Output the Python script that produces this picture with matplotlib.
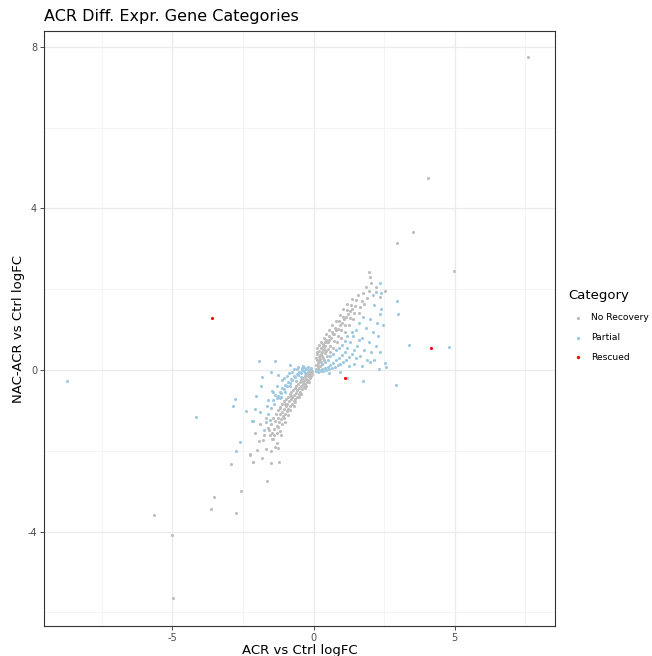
import numpy as np
import matplotlib.pyplot as plt

plt.rcParams['axes.unicode_minus'] = False

# values (logFC ACR vs Ctrl, logFC NAC-ACR vs Ctrl)
norec_x = [7.6, 4.06, 3.53, 2.97, 4.98, -5.65, -5.02, -4.98, -3.54, -3.64, -2.73, -2.56, -2.94,
           -2.14, -2.24, 1.95, 2.01, 2.54, 2.23, -1.65, -2.25, -2.16, -1.99, -1.84, -1.52, -1.24,
           -1.35, -2.08, -1.88, -1.7, -1.57, -1.26, -1.78, -1.48,
           0.08, 0.1, 0.12, 0.12, 0.14, 0.15, 0.17, 0.18, 0.2, 0.2, 0.22, 0.24, 0.25, 0.27, 0.28,
           0.3, 0.31, 0.33, 0.35, 0.36, 0.38, 0.4, 0.42, 0.43, 0.45, 0.47, 0.5, 0.52, 0.53, 0.55,
           0.58, 0.6, 0.62, 0.64, 0.66, 0.7, 0.72, 0.74, 0.76, 0.78, 0.82, 0.85, 0.87, 0.9, 0.92,
           0.96, 0.98, 1.0, 1.03, 1.05, 1.1, 1.12, 1.15, 1.18, 1.2, 1.25, 1.28, 1.3, 1.33, 1.38,
           1.4, 1.45, 1.48, 1.52, 1.58, 1.6, 1.65, 1.7, 1.75, 1.8, 1.85, 1.9, 2.05, 1.98, 2.2, 2.35,
           0.1, 0.13, 0.16, 0.19, 0.23, 0.26, 0.29, 0.32, 0.34, 0.37, 0.41, 0.44, 0.48, 0.56, 0.68,
           0.8, 0.94, 1.08, 1.22, 1.36,
           -0.04, -0.06, -0.08, -0.1, -0.12, -0.14, -0.16, -0.18, -0.2, -0.21, -0.23, -0.25, -0.27,
           -0.29, -0.31, -0.33, -0.35, -0.37, -0.39, -0.41, -0.43, -0.45, -0.47, -0.49, -0.51,
           -0.53, -0.55, -0.57, -0.59, -0.61, -0.63, -0.65, -0.67, -0.69, -0.71, -0.73, -0.75,
           -0.77, -0.79, -0.81, -0.83, -0.85, -0.87, -0.89, -0.91, -0.93, -0.95, -0.97, -0.99,
           -1.01, -1.04, -1.06, -1.08, -1.11, -1.13, -1.15, -1.18, -1.2, -1.22, -1.25, -1.27, -1.3,
           -1.33, -1.36, -1.4, -1.43, -1.46, -1.5, -1.55, -1.6, -1.1, -0.9, -0.7, -0.5, -0.3, -1.0,
           -0.8, -0.6, -0.4, -0.15, -1.2, -1.4, -1.3, -1.2, -1.0, -0.25, -0.45, -0.65, -0.85, -1.05,
           -1.25, -1.45, -1.7, -1.3, -1.15, -1.5, -1.75, -1.95]
norec_y = [7.75, 4.75, 3.42, 3.14, 2.45, -3.59, -4.08, -5.64, -3.14, -3.44, -3.54, -2.99, -2.32,
           -2.29, -2.1, 2.42, 2.29, 1.96, 1.92, -2.75, -2.09, -2.28, -1.98, -2.18, -2.01, -2.29,
           -1.9, -1.57, -1.33, -1.2, -1.49, -1.94, -1.73, -1.72,
           0.02, 0.12, 0.25, 0.4, 0.55, 0.05, 0.18, 0.32, 0.47, 0.62, 0.1, 0.28, 0.4, 0.55, 0.7,
           0.15, 0.35, 0.5, 0.65, 0.8, 0.25, 0.42, 0.58, 0.75, 0.9, 0.35, 0.52, 0.68, 0.85, 1.0,
           0.45, 0.6, 0.78, 0.95, 1.1, 0.55, 0.72, 0.9, 1.05, 1.2, 0.68, 0.85, 1.02, 1.2, 1.35,
           0.8, 1.0, 1.15, 1.32, 1.5, 0.95, 1.12, 1.3, 1.48, 1.62, 1.1, 1.28, 1.45, 1.6, 1.75,
           1.25, 1.42, 1.58, 1.72, 1.85, 1.4, 1.55, 1.7, 1.9, 1.62, 2.05, 1.78, 2.15, 1.95, 2.05, 1.8,
           0.3, 0.45, 0.1, 0.22, 0.38, 0.2, 0.45, 0.6, 0.3, 0.52, 0.68, 0.48, 0.7, 0.75, 0.88,
           1.0, 1.1, 1.25, 1.38, 1.5,
           -0.02, -0.1, 0.0, -0.14, -0.06, -0.2, -0.1, -0.25, -0.05, -0.16, -0.3, -0.1, -0.22,
           -0.36, -0.15, -0.28, -0.42, -0.2, -0.34, -0.48, -0.25, -0.4, -0.54, -0.3, -0.45,
           -0.6, -0.35, -0.5, -0.66, -0.4, -0.56, -0.72, -0.45, -0.62, -0.78, -0.5, -0.67,
           -0.84, -0.55, -0.72, -0.9, -0.6, -0.78, -0.96, -0.66, -0.84, -1.02, -0.72, -0.9,
           -1.08, -0.78, -0.96, -1.15, -0.85, -1.03, -1.22, -0.92, -1.1, -1.3, -1.0, -1.18, -1.38,
           -1.08, -1.27, -1.46, -1.2, -1.55, -1.35, -1.62, -1.45, -1.35, -1.12, -0.9, -0.68, -0.45, -0.85,
           -0.65, -0.5, -0.28, -0.3, -0.95, -1.6, -1.55, -1.5, -1.3, -0.4, -0.6, -0.8, -1.0, -1.2,
           -1.42, -1.7, -1.95, -1.8, -1.6, -2.3, -1.6, -1.75]

partial_x = [-8.73, -4.17, -2.59, -2.74, -2.16, 2.37, 2.94, 2.99, 3.37, 4.81, 2.37, 2.53, 2.56,
             2.33, 2.13, 2.92, 1.77, 2.47, 2.39, 2.34,
             -1.93, -1.38, -0.84, -0.42, -1.81, -1.52, -1.87, -2.78, -2.85, -2.4, -2.04, -2.07,
             -2.17, -1.9, -1.76, -1.48, -1.26, -1.11, -1.42, -1.17,
             -0.2, -0.25, -0.3, -0.35, -0.4, -0.45, -0.5, -0.55, -0.6, -0.65, -0.7, -0.75, -0.8,
             -0.85, -0.9, -0.95, -1.0, -1.05, -1.1, -1.15, -1.2, -1.25, -1.3, -1.35, -1.4, -1.5,
             -1.6, -0.6, -0.75, -0.95, -1.05, -0.3, -0.45, -0.62, -0.82, -1.0, -1.18, -0.15, -0.1,
             -0.38, -0.55, -0.7, -0.88, -1.3, -1.45, -1.6, -1.7, -1.55, -1.65,
             0.1, 0.15, 0.2, 0.25, 0.3, 0.35, 0.4, 0.45, 0.5, 0.55, 0.6, 0.65, 0.7, 0.75, 0.8, 0.85,
             0.9, 0.95, 1.0, 1.05, 1.1, 1.15, 1.2, 1.25, 1.3, 1.35, 1.4, 1.45, 1.5, 1.55, 1.6, 1.65,
             1.7, 1.75, 1.8, 1.85, 1.9, 1.95, 2.0, 2.05, 2.1, 2.15, 2.2, 2.25, 2.0, 1.45, 1.25, 0.3,
             0.4, 0.5, 0.6, 0.7, 0.8, 0.9, 1.0, 1.1, 1.2, 1.35, 1.5, 1.6, 2.3, 2.1, 1.7, 0.55, 0.95,
             1.2, 2.4]
partial_y = [-0.27, -1.16, -1.79, -2.0, -1.27, 2.16, 1.7, 1.39, 0.61, 0.57, 0.45, 0.16, 0.07,
             0.02, 0.25, -0.38, -0.27, 1.1, 1.5, 1.39,
             0.22, 0.21, 0.11, 0.06, -0.17, -0.04, -0.41, -0.73, -0.89, -1.02, -0.64, -0.96,
             -1.26, -1.05, -1.49, -0.51, -0.12, -0.25, -0.74, -0.66,
             0.08, 0.02, 0.05, -0.03, 0.0, -0.08, -0.05, -0.12, -0.1, -0.18, -0.15, -0.25, -0.22,
             -0.32, -0.3, -0.4, -0.38, -0.48, -0.45, -0.56, -0.55, -0.65, -0.7, -0.62, -0.85, -0.95,
             -1.1, 0.02, -0.05, -0.15, -0.2, -0.08, -0.18, -0.28, -0.4, -0.55, -0.7, 0.0, 0.05,
             0.1, 0.08, 0.02, -0.08, -0.4, -0.55, -0.75, -1.3, -1.25, -0.9,
             -0.02, -0.05, 0.0, -0.03, 0.02, -0.02, 0.05, 0.0, 0.08, 0.02, 0.12, 0.05, 0.18, 0.08,
             0.25, 0.12, 0.3, 0.15, 0.38, 0.2, 0.45, 0.25, 0.55, 0.32, 0.7, 0.4, 0.85, 0.5, 1.0,
             0.6, 1.15, 0.35, 0.8, 1.3, 0.5, 1.05, 0.25, 0.7, 1.25, 0.45, 0.95, 1.6, 0.6, 1.15, 0.2,
             0.15, 0.1, 0.15, 0.2, 0.25, 0.35, 0.4, 0.5, 0.55, 0.62, 0.72, 0.85, 0.95, 0.3, 0.75,
             0.85, 1.85, 0.1, -0.08, -0.05, -0.2, 1.9]

rescued_x = [-3.6, 1.13, 4.17]
rescued_y = [1.29, -0.2, 0.54]

categories = ["No Recovery", "Partial", "Rescued"]
colors = ["#BEBEBE", "#9ECAE1", "#FF0000"]

fig = plt.figure(figsize=(6.52, 6.56), dpi=100)
ax = fig.add_axes([0.0675, 0.0457, 0.7835, 0.907])

series = [(norec_x, norec_y), (partial_x, partial_y), (rescued_x, rescued_y)]
for (xs, ys), lab, c in zip(series, categories, colors):
    ax.scatter(xs, ys, s=5, color=c, linewidths=0, label=lab, zorder=3)

ax.set_xlim(-9.55, 8.55)
ax.set_ylim(-6.34, 8.39)
ax.set_xticks([-5, 0, 5])
ax.set_yticks([-4, 0, 4, 8])
ax.set_xticks([-7.5, -2.5, 2.5, 7.5], minor=True)
ax.set_yticks([-6, -2, 2, 6], minor=True)
ax.grid(which="major", color="#EBEBEB", lw=1.0, zorder=0)
ax.grid(which="minor", color="#F2F2F2", lw=0.6, zorder=0)
ax.tick_params(which="major", length=3, width=0.6, color="#333333", labelsize=7, labelcolor="#4D4D4D", pad=2)
ax.tick_params(which="minor", length=0)
for sp in ax.spines.values():
    sp.set_color("#333333")
    sp.set_linewidth(0.8)
ax.set_axisbelow(True)

ax.set_xlabel("ACR vs Ctrl logFC", fontsize=9.5, labelpad=1)
ax.set_ylabel("NAC-ACR vs Ctrl logFC", fontsize=9.5, labelpad=2)
fig.text(44 / 652, 1 - 17 / 656, "ACR Diff. Expr. Gene Categories", fontsize=11.5, va="center", ha="left")

# legend drawn by hand, squeezed into the right margin
fig.text(568 / 652, 1 - 296 / 656, "Category", fontsize=9.5, va="center", ha="left")
for i, (lab, c) in enumerate(zip(categories, colors)):
    yy = 1 - (318 + 19.5 * i) / 656
    fig.text(591 / 652, yy, lab, fontsize=6.6, va="center", ha="left")
    fig.lines.append(plt.Line2D([578 / 652], [yy], marker="o", ms=2.4, color=c, mew=0,
                                transform=fig.transFigure))

fig.savefig("out.png", dpi=100)
